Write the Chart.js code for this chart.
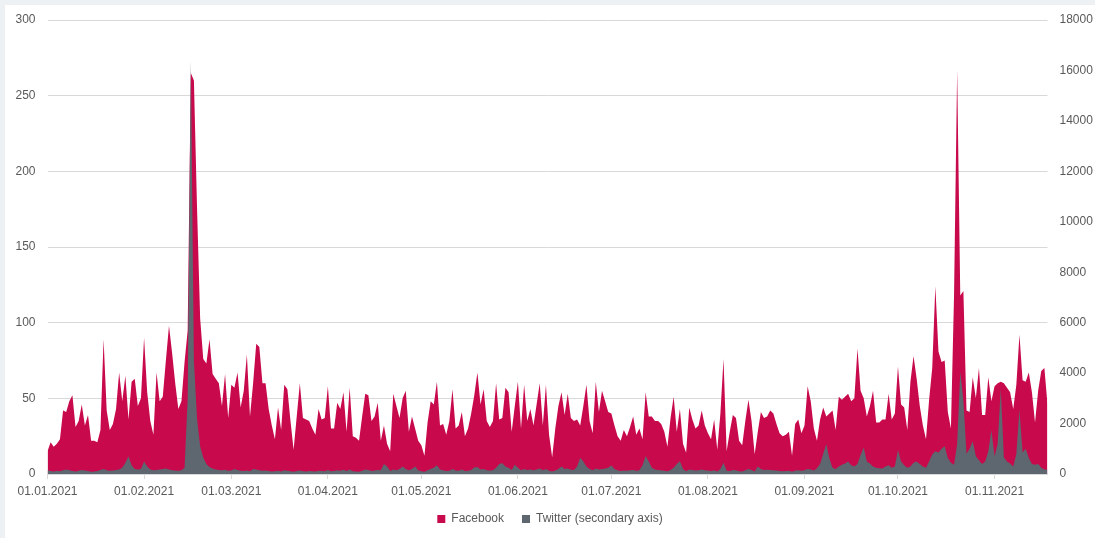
<!DOCTYPE html>
<html>
<head>
<meta charset="utf-8">
<script src="https://cdn.jsdelivr.net/npm/chart.js@4.4.1/dist/chart.umd.min.js"></script>
<style>
  html, body { margin: 0; padding: 0; background: #edf1f4; }
  #wrap { position: absolute; left: 5px; top: 5px; width: 1090px; height: 533px; background: #ffffff; }
  canvas { display: block; }
</style>
</head>
<body>
<div id="wrap"><canvas id="c" width="1090" height="533"></canvas></div>
<script>
// Day index 0 = 01.01.2021, last index 321 = 18.11.2021
const monthTickDays = [0, 31, 59, 90, 120, 151, 181, 212, 243, 273, 304];
const monthTickLabels = ['01.01.2021','01.02.2021','01.03.2021','01.04.2021','01.05.2021','01.06.2021','01.07.2021','01.08.2021','01.09.2021','01.10.2021','01.11.2021'];
const leftTicks = [0, 50, 100, 150, 200, 250, 300];
const rightTicks = [0, 2000, 4000, 6000, 8000, 10000, 12000, 14000, 16000, 18000];

const facebook = [
  15,21,18,20,23,42,41,48,52,31, 35,46,32,39,22,22,21,29,89,42,
  29,33,43,67,48,65,36,61,63,45, 50,90,54,35,26,67,48,51,75,98,
  80,60,43,48,74,95,265,260,176,103, 76,73,89,66,63,60,45,66,37,59,
  57,67,44,55,79,38,60,86,84,60, 60,43,32,23,44,29,59,56,35,16,
  38,60,37,36,35,30,26,43,36,37, 58,30,30,47,43,54,28,57,25,24,
  22,38,53,52,35,38,47,22,32,20, 15,53,45,37,50,55,28,38,30,22,
  19,12,34,48,46,61,32,33,26,35, 56,30,32,41,25,30,40,52,67,46,
  56,35,31,35,60,36,37,57,54,28, 45,61,30,59,35,43,32,46,60,32,
  59,26,11,30,45,54,39,53,37,35, 36,32,45,59,35,27,61,41,55,48,
  41,40,32,25,22,29,25,31,38,26, 30,23,54,38,38,35,35,33,28,18,
  37,51,28,43,20,14,44,36,30,32, 42,32,27,23,36,16,40,76,15,28,
  39,37,22,19,35,49,35,13,28,41, 37,38,42,40,33,27,25,26,28,12,
  33,36,27,32,58,48,30,22,36,44, 38,40,42,29,51,49,51,53,48,50,
  83,55,50,38,45,55,34,34,36,36, 53,36,40,71,46,44,29,61,78,63,
  45,32,23,49,70,124,81,74,75,41, 30,118,267,118,121,42,41,64,50,70,
  39,39,64,48,58,60,61,60,57,54, 43,59,92,62,61,67,54,34,55,68,
  70,46
];

const twitter = [
  150,120,100,130,110,150,180,150,120,100, 130,160,140,120,90,100,120,160,200,150,
  130,140,160,180,250,450,700,350,200,180, 200,500,300,180,150,160,180,200,220,180,
  150,140,130,150,250,3000,16400,4500,2200,1100, 650,400,280,220,180,160,150,170,130,140,
  200,160,130,120,140,110,200,180,150,130, 140,120,100,110,130,100,150,130,110,90,
  120,140,110,100,120,110,100,130,120,110, 160,110,120,150,130,170,120,180,110,100,
  90,130,180,160,120,140,160,150,400,300, 120,180,150,200,300,200,150,200,300,150,
  110,90,150,200,250,350,180,150,120,130, 200,140,130,180,120,130,160,260,280,180,
  200,150,140,150,250,400,430,300,250,160, 370,250,150,200,160,180,150,180,220,150,
  200,130,100,140,200,300,200,220,170,160, 300,640,500,300,200,150,220,180,200,220,
  250,340,200,150,120,140,130,150,160,130, 150,350,710,500,250,180,160,150,130,110,
  160,250,400,505,200,110,180,160,140,150, 180,150,140,120,150,100,200,450,130,120,
  160,150,110,100,150,200,160,100,300,200, 160,170,160,150,140,120,110,120,130,90,
  140,150,130,150,200,180,140,230,400,800, 1190,600,250,200,300,370,420,500,350,300,
  400,750,1050,500,420,300,250,230,220,300, 350,250,300,950,500,350,250,300,450,500,
  400,300,250,500,770,900,850,1000,1100,630, 450,370,1200,4050,2900,800,1000,1300,700,550,
  400,500,900,1740,700,1200,3380,650,500,420, 300,800,2560,850,1000,630,400,370,400,250,
  180,170
];

const FB_COLOR = '#C8094C';
const TW_COLOR = '#5E6670';
const TEXT_COLOR = '#595959';
const GRID_COLOR = '#D9D9D9';
const FONT = { family: "'Liberation Sans', Arial, sans-serif", size: 12 };

const ctx = document.getElementById('c').getContext('2d');
new Chart(ctx, {
  type: 'line',
  data: {
    datasets: [
      {
        label: 'Facebook',
        data: facebook.map((v, i) => ({ x: i, y: v })),
        yAxisID: 'y',
        backgroundColor: FB_COLOR,
        borderColor: 'rgba(0,0,0,0)',
        borderWidth: 0,
        fill: 'origin',
        pointRadius: 0,
        tension: 0,
        order: 1
      },
      {
        label: 'Twitter (secondary axis)',
        data: twitter.map((v, i) => ({ x: i, y: v })),
        yAxisID: 'y1',
        backgroundColor: TW_COLOR,
        borderColor: 'rgba(0,0,0,0)',
        borderWidth: 0,
        fill: 'origin',
        pointRadius: 0,
        tension: 0,
        order: 0
      }
    ]
  },
  options: {
    responsive: false,
    animation: false,
    events: [],
    layout: { padding: { top: 15, bottom: 3, left: 0, right: 0 } },
    plugins: {
      tooltip: { enabled: false },
      legend: {
        position: 'bottom',
        labels: {
          boxWidth: 8,
          boxHeight: 8,
          padding: 18,
          color: TEXT_COLOR,
          font: FONT,
          sort: (a, b) => a.datasetIndex - b.datasetIndex
        }
      }
    },
    scales: {
      x: {
        type: 'linear',
        min: 0,
        max: facebook.length - 1,
        afterBuildTicks: (s) => { s.ticks = monthTickDays.map(v => ({ value: v })); },
        afterFit: (s) => { s.height = 21; },
        ticks: {
          autoSkip: false,
          maxRotation: 0,
          minRotation: 0,
          padding: 5,
          color: TEXT_COLOR,
          font: FONT,
          callback: (v) => monthTickLabels[monthTickDays.indexOf(v)]
        },
        grid: { drawOnChartArea: false, drawTicks: true, tickLength: 5, color: GRID_COLOR },
        border: { display: true, color: GRID_COLOR }
      },
      y: {
        position: 'left',
        min: 0,
        max: 300,
        afterBuildTicks: (s) => { s.ticks = leftTicks.map(v => ({ value: v })); },
        afterFit: (s) => { s.width = 42.5; s.paddingTop = 0; s.paddingBottom = 0; },
        ticks: { padding: 12, color: TEXT_COLOR, font: FONT, callback: (v) => String(v) },
        grid: { color: GRID_COLOR, drawTicks: false, lineWidth: 1 },
        border: { display: false }
      },
      y1: {
        position: 'right',
        min: 0,
        max: 18000,
        afterBuildTicks: (s) => { s.ticks = rightTicks.map(v => ({ value: v })); },
        afterFit: (s) => { s.width = 47.5; s.paddingTop = 0; s.paddingBottom = 0; },
        ticks: { padding: 12, color: TEXT_COLOR, font: FONT, callback: (v) => String(v) },
        grid: { display: false, drawTicks: false },
        border: { display: false }
      }
    }
  }
});
</script>
</body>
</html>
